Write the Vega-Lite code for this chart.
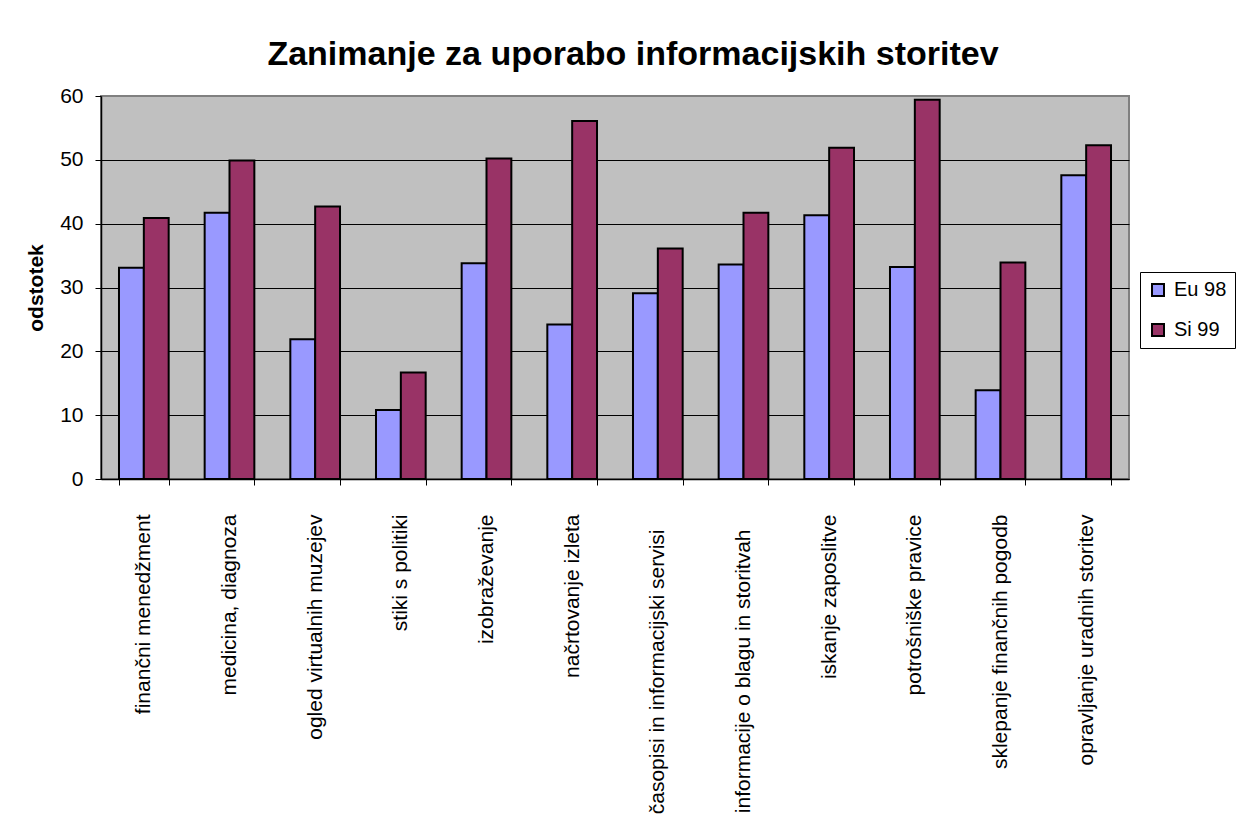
{
  "$schema": "https://vega.github.io/schema/vega-lite/v6.json",
  "width": 1028,
  "height": 383,
  "autosize": {"type": "none"},
  "padding": {"left": 101, "top": 96, "right": 122, "bottom": 342},
  "background": "white",
  "title": {
    "text": "Zanimanje za uporabo informacijskih storitev",
    "font": "Liberation Sans",
    "fontSize": 34,
    "fontWeight": "bold",
    "color": "black",
    "anchor": "middle",
    "dx": 18,
    "offset": 13
  },
  "data": {
    "values": [
      {"category": "finančni menedžment", "series": "Eu 98", "value": 33.1},
      {"category": "finančni menedžment", "series": "Si 99", "value": 40.9},
      {"category": "medicina, diagnoza", "series": "Eu 98", "value": 41.7},
      {"category": "medicina, diagnoza", "series": "Si 99", "value": 49.9},
      {"category": "ogled virtualnih muzejev", "series": "Eu 98", "value": 21.9},
      {"category": "ogled virtualnih muzejev", "series": "Si 99", "value": 42.7},
      {"category": "stiki s politiki", "series": "Eu 98", "value": 10.8},
      {"category": "stiki s politiki", "series": "Si 99", "value": 16.7},
      {"category": "izobraževanje", "series": "Eu 98", "value": 33.8},
      {"category": "izobraževanje", "series": "Si 99", "value": 50.2},
      {"category": "načrtovanje izleta", "series": "Eu 98", "value": 24.2},
      {"category": "načrtovanje izleta", "series": "Si 99", "value": 56.1},
      {"category": "časopisi in informacijski servisi", "series": "Eu 98", "value": 29.1},
      {"category": "časopisi in informacijski servisi", "series": "Si 99", "value": 36.1},
      {"category": "informacije o blagu in storitvah", "series": "Eu 98", "value": 33.6},
      {"category": "informacije o blagu in storitvah", "series": "Si 99", "value": 41.7},
      {"category": "iskanje zaposlitve", "series": "Eu 98", "value": 41.3},
      {"category": "iskanje zaposlitve", "series": "Si 99", "value": 51.9},
      {"category": "potrošniške pravice", "series": "Eu 98", "value": 33.2},
      {"category": "potrošniške pravice", "series": "Si 99", "value": 59.4},
      {"category": "sklepanje finančnih pogodb", "series": "Eu 98", "value": 13.9},
      {"category": "sklepanje finančnih pogodb", "series": "Si 99", "value": 33.9},
      {"category": "opravljanje uradnih storitev", "series": "Eu 98", "value": 47.6},
      {"category": "opravljanje uradnih storitev", "series": "Si 99", "value": 52.3}
    ]
  },
  "mark": {"type": "bar", "stroke": "black", "strokeWidth": 2},
  "encoding": {
    "x": {
      "field": "category",
      "type": "nominal",
      "sort": null,
      "scale": {"paddingInner": 0.42, "paddingOuter": 0.21},
      "axis": {
        "title": null,
        "labelAngle": -90,
        "labelAlign": "right",
        "labelBaseline": "middle",
        "labelFont": "Liberation Sans",
        "labelFontSize": 21,
        "labelColor": "black",
        "labelPadding": {
          "condition": {"test": "datum.label == 'časopisi in informacijski servisi' || datum.label == 'informacije o blagu in storitvah'", "value": 44},
          "value": 29
        },
        "labelLimit": 0,
        "labelOverlap": false,
        "tickBand": "extent",
        "tickSize": 6,
        "tickColor": "black",
        "domainColor": "black",
        "domainWidth": 1.5,
        "grid": false
      }
    },
    "xOffset": {"field": "series", "type": "nominal", "sort": ["Eu 98", "Si 99"]},
    "y": {
      "field": "value",
      "type": "quantitative",
      "scale": {"domain": [0, 60], "nice": false},
      "axis": {
        "title": "odstotek",
        "titleFont": "Liberation Sans",
        "titleFontSize": 21,
        "titleFontWeight": "bold",
        "titleColor": "black",
        "titlePadding": 13,
        "values": [0, 10, 20, 30, 40, 50, 60],
        "labelFont": "Liberation Sans",
        "labelFontSize": 21,
        "labelColor": "black",
        "labelPadding": 12,
        "tickSize": 6,
        "tickColor": "black",
        "domainColor": "black",
        "domainWidth": 1.5,
        "grid": true,
        "gridColor": {"condition": {"test": "datum.value == 60", "value": "#808080"}, "value": "black"},
        "gridWidth": 1
      }
    },
    "color": {
      "field": "series",
      "type": "nominal",
      "scale": {"domain": ["Eu 98", "Si 99"], "range": ["#9999FF", "#993366"]},
      "legend": {
        "title": null,
        "orient": "none",
        "legendX": 1039,
        "legendY": 176,
        "strokeColor": "black",
        "fillColor": "white",
        "padding": 8,
        "symbolType": "square",
        "symbolSize": 144,
        "symbolStrokeColor": "black",
        "symbolStrokeWidth": 2,
        "symbolOpacity": 1,
        "labelFont": "Liberation Sans",
        "labelFontSize": 20,
        "labelColor": "black",
        "labelOffset": 6,
        "rowPadding": 20
      }
    }
  },
  "config": {
    "view": {"fill": "#C0C0C0", "stroke": "#808080", "strokeWidth": 2}
  }
}
